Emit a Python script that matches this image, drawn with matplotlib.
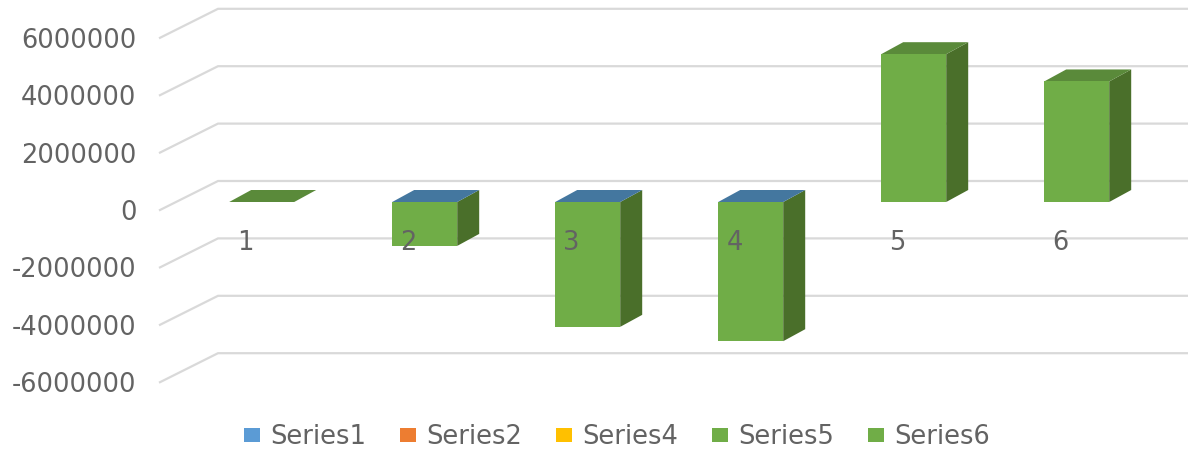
import matplotlib
matplotlib.use("Agg")
import matplotlib.pyplot as plt
from matplotlib.patches import Patch, Polygon
from matplotlib.transforms import ScaledTranslation

categories = [1, 2, 3, 4, 5, 6]
series_names = ["Series1", "Series2", "Series4", "Series5", "Series6"]
series1 = [0, 5000, 5000, 5000, 0, 0]
series6 = [0, -1530000, -4350000, -4850000, 5150000, 4200000]
y_ticks = [-6000000, -4000000, -2000000, 0, 2000000, 4000000, 6000000]

legend_colors = ["#5B9BD5", "#ED7D31", "#FFC000", "#70AD47", "#70AD47"]
FRONT, SIDE, TOP_G, TOP_B = "#70AD47", "#4A6F2A", "#5A8A3A", "#44779F"
GRID, TEXT = "#D9D9D9", "#636363"

W, H = 1188, 450
CX = 261.7
plt.rcParams["font.family"] = ["DejaVu Sans"]
fig = plt.figure(figsize=(W / 100, H / 100), dpi=100)
ax = fig.add_axes([160 / W, 0, (W - 160) / W, 1])
for s in ax.spines.values():
    s.set_visible(False)

PX_X = 1 / 163.0               # categories per pixel
PX_Y = 2000000 / 57.4          # value per pixel
ax.set_xlim(1 + (160 - CX) * PX_X, 1 + (W - CX) * PX_X)
ax.set_ylim((202 - H) * PX_Y, 202 * PX_Y)

# walls
x_front, x_back = ax.get_xlim()[0], 1 + (218 - CX) * PX_X
x_right = ax.get_xlim()[1]
for v in y_ticks:
    yf, yb = v - 8 * PX_Y, v + 21 * PX_Y
    ax.plot([x_front, x_back, x_right], [yf, yb, yb], color=GRID, lw=1.6,
            solid_joinstyle="miter", zorder=1, clip_on=False)

# bars with a depth
bw = 65 * PX_X
dx, dy = 22 * PX_X, 12 * PX_Y
ax.bar(categories, series6, width=bw, color=FRONT, zorder=4)
for c, v, s1 in zip(categories, series6, series1):
    l, r = c - bw / 2, c + bw / 2
    hi, lo = max(v, 0), min(v, 0)
    if v != 0:
        ax.add_patch(Polygon([(r, hi), (r + dx, hi + dy), (r + dx, lo + dy), (r, lo)],
                             closed=True, fc=SIDE, ec="none", zorder=3))
    ax.add_patch(Polygon([(l, hi), (l + dx, hi + dy), (r + dx, hi + dy), (r, hi)],
                         closed=True, fc=TOP_B if s1 else TOP_G, ec="none", zorder=3))

# axis text
ax.set_xticks([])
ax.set_yticks(y_ticks)
ax.set_yticklabels([str(v) for v in y_ticks])
ax.tick_params(axis="y", length=0, pad=17, labelsize=18.5, labelcolor=TEXT)
shift = ScaledTranslation(0, -8 / 100, fig.dpi_scale_trans)
for lab in ax.get_yticklabels():
    lab.set_transform(lab.get_transform() + shift)
for c in categories:
    ax.annotate(str(c), xy=(c, 0), xytext=(-16, -41), textcoords="offset pixels",
                ha="center", va="center", fontsize=18.5, color=TEXT, zorder=5)

handles = [Patch(fc=col, ec="none") for col in legend_colors]
fig.legend(handles, series_names, loc="center", bbox_to_anchor=(617 / W, 1 - 437 / H),
           ncol=5, frameon=False, fontsize=18.5, labelcolor=TEXT, handlelength=0.62,
           handleheight=0.5, handletextpad=0.4, columnspacing=1.32)

fig.savefig("out.png", dpi=100)
